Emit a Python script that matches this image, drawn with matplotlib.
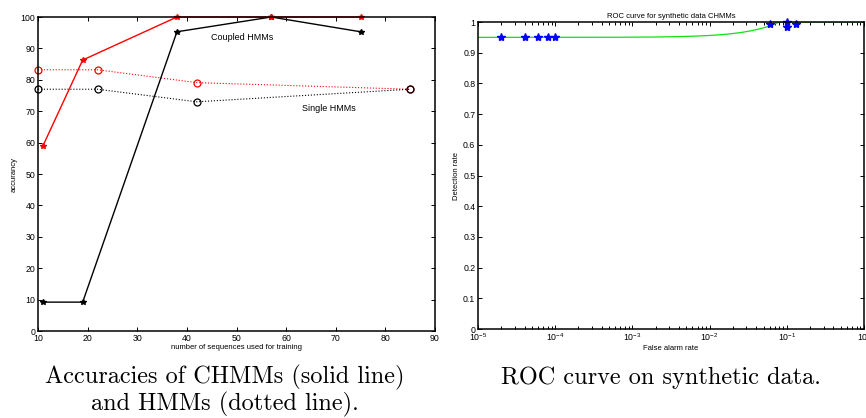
import matplotlib
matplotlib.use('Agg')
import matplotlib.pyplot as plt
import numpy as np

plt.rcParams['font.family'] = ['Liberation Sans', 'DejaVu Sans']
plt.rcParams['mathtext.fontset'] = 'custom'
plt.rcParams['mathtext.rm'] = 'Liberation Sans'

# left panel: accuracy vs training set size
chmm_x = [11, 19, 38, 57, 75]
chmm_red = [59, 86.3, 100, 100, 100]
chmm_black = [9.2, 9.2, 95.3, 100, 95.3]
hmm_x = [10, 22, 42, 85]
hmm_red = [83.2, 83.2, 79.1, 77.0]
hmm_black = [77.0, 77.0, 73.0, 77.0]

# right panel: ROC points and curve knots
roc_fa = [2e-5, 4e-5, 6e-5, 8e-5, 1e-4, 0.06, 0.1, 0.1, 0.13]
roc_det = [0.95, 0.95, 0.95, 0.95, 0.95, 0.995, 1.0, 0.984, 0.992]
curve_fa = [0.0, 0.08, 1.0]
curve_det = [0.95, 1.0, 1.0]

fig = plt.figure(figsize=(8.66, 4.18), dpi=100)

def style_axes(ax):
    ax.tick_params(direction='in', which='both', top=True, right=True,
                   labelsize=6.3, length=3, width=0.7, pad=2)
    ax.tick_params(which='minor', length=2)
    for s in ax.spines.values():
        s.set_linewidth(1.1)

ax1 = fig.add_axes([0.0439, 0.2081, 0.4584, 0.7512])
ax1.plot(hmm_x, hmm_red, color='red', linestyle=':', linewidth=0.8,
         marker='o', markersize=5, markerfacecolor='none', markeredgewidth=0.9, clip_on=False)
ax1.plot(hmm_x, hmm_black, color='black', linestyle=':', linewidth=0.8,
         marker='o', markersize=5, markerfacecolor='none', markeredgewidth=0.9, clip_on=False)
ax1.plot(chmm_x, chmm_black, color='black', linewidth=1.0, marker='*', markersize=4, clip_on=False)
ax1.plot(chmm_x, chmm_red, color='red', linewidth=1.0, marker='*', markersize=4, clip_on=False)
ax1.text(44.8, 93.5, 'Coupled HMMs', fontsize=6.5, va='center', ha='left')
ax1.text(63.2, 70.8, 'Single HMMs', fontsize=6.5, va='center', ha='left')
ax1.set_xlim(10, 90)
ax1.set_ylim(0, 100)
ax1.set_xticks(range(10, 91, 10))
ax1.set_yticks(range(0, 101, 10))
ax1.set_xlabel('number of sequences used for training', fontsize=5.5, labelpad=1)
ax1.set_ylabel('accurancy', fontsize=5.5, labelpad=2)
style_axes(ax1)

ax2 = fig.add_axes([0.552, 0.2129, 0.4457, 0.7344])
grid = np.geomspace(1e-5, 1, 400)
ax2.plot(grid, np.interp(grid, curve_fa, curve_det), color='#11e011', linewidth=0.9)
ax2.plot(roc_fa, roc_det, linestyle='none', marker='*', markersize=6, color='blue', clip_on=False)
ax2.set_xscale('log')
ax2.set_xlim(1e-5, 1)
ax2.set_ylim(0, 1)
ax2.set_yticks(np.arange(0, 1.01, 0.1))
ax2.set_yticklabels(['0', '0.1', '0.2', '0.3', '0.4', '0.5', '0.6', '0.7', '0.8', '0.9', '1'])
ax2.set_title('ROC curve for synthetic data CHMMs', fontsize=5.5, pad=3)
ax2.set_xlabel('False alarm rate', fontsize=5.5, labelpad=1)
ax2.set_ylabel('Detection rate', fontsize=5.5, labelpad=2)
style_axes(ax2)

fig.text(225 / 866, 1 - 391 / 418, 'Accuracies of CHMMs (solid line)\nand HMMs (dotted line).',
         fontfamily='cmr10', fontsize=17.5, ha='center', va='center', linespacing=1.1)
fig.text(661 / 866, 1 - 378 / 418, 'ROC curve on synthetic data.',
         fontfamily='cmr10', fontsize=17.5, ha='center', va='center')

fig.savefig('out.png', dpi=100)
